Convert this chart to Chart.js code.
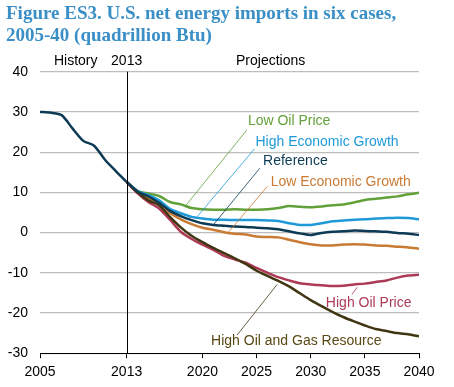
<!DOCTYPE html>
<html>
<head>
<meta charset="utf-8">
<script src="https://cdn.jsdelivr.net/npm/chart.js@4.4.1/dist/chart.umd.min.js"></script>
<style>
html, body { margin: 0; padding: 0; background: #fff; }
#wrap { width: 454px; height: 387px; position: relative; }
</style>
</head>
<body>
<div id="wrap"><canvas id="canvas"></canvas></div>
<script>
// history 2005-2013, projections 2013-2040 (quadrillion Btu)
const historyYears = [2005, 2006, 2007, 2008, 2009, 2010, 2011, 2012, 2013];
const historyValues = [30.0, 29.8, 29.2, 25.9, 22.8, 21.6, 18.1, 15.3, 12.6];

const projYears = [];
for (let y = 2013; y <= 2040; y++) projYears.push(y);

const reference = [12.6, 10.2, 9.0, 7.4, 5.4, 4.1, 3.1, 2.3, 1.9, 1.7, 1.5, 1.4, 1.2, 1.1,
  0.8, 0.3, -0.2, -0.6, -0.1, 0.2, 0.3, 0.5, 0.4, 0.3, 0.2, -0.1, -0.3, -0.6];
const lowOilPrice = [12.6, 10.4, 9.7, 9.1, 7.6, 7.0, 6.1, 5.8, 5.7, 5.7, 5.8, 5.7, 5.7, 5.8,
  6.1, 6.6, 6.4, 6.3, 6.5, 6.8, 7.0, 7.5, 8.1, 8.4, 8.7, 9.0, 9.5, 9.9];
const highEconGrowth = [12.6, 10.3, 9.3, 8.0, 5.9, 4.8, 3.9, 3.5, 3.2, 3.2, 3.1, 3.1, 3.1, 3.0,
  2.9, 2.3, 1.9, 1.9, 2.3, 2.8, 3.0, 3.2, 3.3, 3.5, 3.6, 3.7, 3.6, 3.3];
const lowEconGrowth = [12.6, 10.0, 8.6, 7.0, 4.9, 3.3, 2.1, 1.2, 0.7, 0.1, -0.3, -0.5, -1.0, -1.1,
  -1.2, -1.8, -2.4, -2.9, -3.2, -3.2, -3.0, -2.9, -3.0, -3.2, -3.3, -3.5, -3.7, -4.0];
const highOilPrice = [12.6, 9.8, 7.6, 6.0, 3.2, 0.2, -1.6, -3.0, -4.3, -5.8, -6.7, -7.5, -8.8, -10.0,
  -11.1, -11.9, -12.6, -12.9, -13.1, -13.3, -13.2, -12.9, -12.7, -12.3, -11.9, -11.2, -10.7, -10.5];
const highOilGas = [12.6, 10.0, 8.0, 6.8, 3.9, 1.3, -0.8, -2.4, -3.8, -5.1, -6.4, -7.8, -9.5, -10.8,
  -12.0, -13.4, -15.1, -16.8, -18.3, -19.7, -21.0, -22.1, -23.1, -24.0, -24.5, -25.0, -25.3, -25.8];

const xTicks = [2005, 2013, 2020, 2025, 2030, 2035, 2040];

const C_NAVY = '#0d3a55';
const C_GREEN = '#62a03a';
const C_BLUE = '#1e9ad8';
const C_ORANGE = '#c97a34';
const C_RED = '#ad3a55';
const C_OLIVE = '#403612';

function pts(xs, ys) {
  return xs.map(function (x, i) { return { x: x, y: ys[i] }; });
}

function line(label, xs, ys, color) {
  return {
    label: label,
    data: pts(xs, ys),
    borderColor: color,
    backgroundColor: color,
    borderWidth: 2.5,
    pointRadius: 0,
    tension: 0.25,
    fill: false
  };
}

// case labels with leader lines, in data coordinates (year, value)
const caseLabels = [
  { text: 'Low Oil Price', color: C_GREEN, txt: C_GREEN, from: [2018.4, 6.5], to: [2024.1, 25.5], at: [2024.2, 27.6] },
  { text: 'High Economic Growth', color: C_BLUE, txt: C_BLUE, from: [2019.5, 3.9], to: [2024.8, 20.8], at: [2024.9, 22.6] },
  { text: 'Reference', color: C_NAVY, txt: C_NAVY, from: [2021.0, 1.9], to: [2025.3, 16.0], at: [2025.6, 17.7] },
  { text: 'Low Economic Growth', color: C_ORANGE, txt: C_ORANGE, from: [2022.3, -0.25], to: [2026.0, 11.5], at: [2026.3, 12.5] },
  { text: 'High Oil Price', color: C_RED, txt: C_RED, from: [2034.3, -13.6], to: [2033.8, -15.4], at: [2031.4, -17.5] },
  { text: 'High Oil and Gas Resource', color: C_OLIVE, txt: '#5a4814', from: [2026.9, -12.9], to: [2023.2, -25.5], at: [2020.8, -26.9] }
];

const notes = {
  id: 'notes',
  afterDatasetsDraw: function (chart) {
    const ctx = chart.ctx;
    const xs = chart.scales.x, ys = chart.scales.y;
    const area = chart.chartArea;
    ctx.save();
    // 2013 divider
    const x13 = Math.round(xs.getPixelForValue(2013)) + 0.5;
    ctx.strokeStyle = '#000';
    ctx.lineWidth = 1;
    ctx.beginPath();
    ctx.moveTo(x13, area.top);
    ctx.lineTo(x13, area.bottom);
    ctx.stroke();

    ctx.font = '14px "Liberation Sans", Arial, sans-serif';
    ctx.fillStyle = '#000';
    ctx.textBaseline = 'middle';
    ctx.textAlign = 'center';
    ctx.fillText('History', xs.getPixelForValue(2008.3), area.top - 11);
    ctx.fillText('2013', xs.getPixelForValue(2013), area.top - 11);
    ctx.fillText('Projections', xs.getPixelForValue(2026.3), area.top - 11);

    ctx.textAlign = 'left';
    caseLabels.forEach(function (c) {
      ctx.strokeStyle = c.color;
      ctx.lineWidth = 0.8;
      ctx.beginPath();
      ctx.moveTo(xs.getPixelForValue(c.from[0]), ys.getPixelForValue(c.from[1]));
      ctx.lineTo(xs.getPixelForValue(c.to[0]), ys.getPixelForValue(c.to[1]));
      ctx.stroke();
      ctx.fillStyle = c.txt;
      ctx.fillText(c.text, xs.getPixelForValue(c.at[0]), ys.getPixelForValue(c.at[1]));
    });
    ctx.restore();
  }
};

Chart.defaults.font.family = '"Liberation Sans", Arial, sans-serif';
Chart.defaults.color = '#000';

const ctx = document.getElementById('canvas').getContext('2d');
const myChart = new Chart(ctx, {
  type: 'line',
  data: {
    datasets: [
      line('History', historyYears, historyValues, C_NAVY),
      line('Reference', projYears, reference, C_NAVY),
      line('High Oil and Gas Resource', projYears, highOilGas, C_OLIVE),
      line('High Oil Price', projYears, highOilPrice, C_RED),
      line('High Economic Growth', projYears, highEconGrowth, C_BLUE),
      line('Low Economic Growth', projYears, lowEconGrowth, C_ORANGE),
      line('Low Oil Price', projYears, lowOilPrice, C_GREEN)
    ]
  },
  plugins: [notes],
  options: {
    responsive: true,
    maintainAspectRatio: false,
    animation: false,
    layout: { padding: { left: 6, right: 35, top: 0, bottom: 0 } },
    plugins: {
      legend: { display: false },
      tooltip: { enabled: false },
      title: {
        display: true,
        align: 'start',
        text: ['Figure ES3. U.S. net energy imports in six cases,', '2005-40 (quadrillion Btu)'],
        color: '#3a8fc6',
        font: { family: '"Liberation Serif", "Times New Roman", serif', size: 19, weight: 'bold', lineHeight: 1.15 },
        padding: { top: 3, bottom: 25 }
      }
    },
    scales: {
      x: {
        type: 'linear',
        min: 2005,
        max: 2040,
        afterBuildTicks: function (s) { s.ticks = xTicks.map(function (v) { return { value: v }; }); },
        ticks: {
          font: { size: 14 },
          padding: 6,
          maxRotation: 0,
          callback: function (v) { return String(v); }
        },
        grid: { drawOnChartArea: false, drawTicks: true, tickLength: 5, color: '#000' },
        border: { display: true, color: '#000', width: 1 }
      },
      y: {
        min: -30,
        max: 40,
        afterFit: function (s) { s.width = 34; },
        ticks: { stepSize: 10, font: { size: 14 }, padding: 12 },
        grid: { color: '#bdbdbd', lineWidth: 1.2, drawTicks: false },
        border: { display: false }
      }
    }
  }
});
</script>
</body>
</html>
